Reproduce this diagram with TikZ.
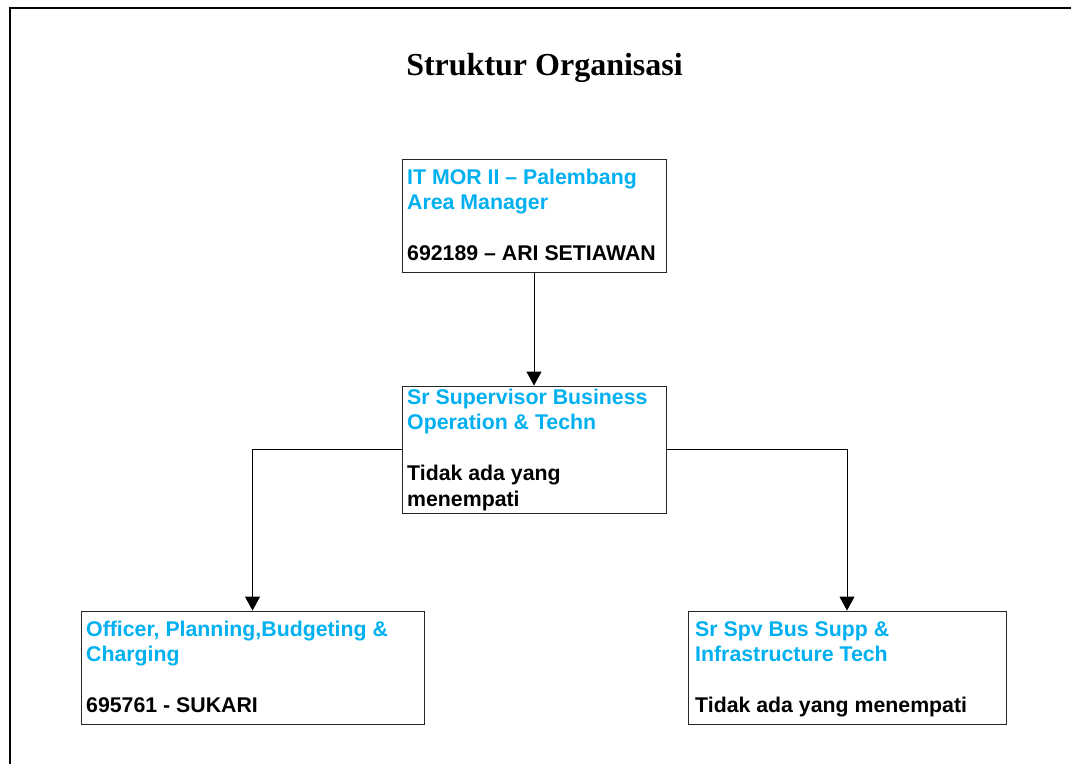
\documentclass[tikz,border=0pt]{standalone}
\usepackage{fontspec}
\setmainfont{Liberation Serif}
\newfontfamily\arialfont{Liberation Sans}
\usetikzlibrary{arrows.meta}
\definecolor{roleblue}{RGB}{0,176,240}

\tikzset{
  posbox/.style={draw=black!85, line width=0.9pt, fill=white, inner sep=0pt,
                 minimum width=#1, minimum height=113pt},
  posbox/.default=264pt,
  boxtext/.style={anchor=base west, inner sep=0pt, font=\arialfont\bfseries\fontsize{21.3}{25.5}\selectfont},
  link/.style={draw=black, line width=0.9pt},
  linkarrow/.style={link, -{Triangle[width=15pt,length=14pt]}},
}

\newcommand{\roletitle}[1]{\textcolor{roleblue}{#1}}

\begin{document}
\begin{tikzpicture}[x=1pt, y=-1pt]
  \useasboundingbox (0,0) rectangle (1071,764);

  % page frame, open on the right and bottom
  \draw[line width=2pt] (10,764) -- (10,8) -- (1071,8);

  % heading
  \node[anchor=base, inner sep=0pt, font=\bfseries\fontsize{32}{38}\selectfont]
    (heading) at (544.5,75) {Struktur Organisasi};

  % position boxes
  \node[posbox] (mgr)  at (534,216)   {};
  \node[posbox, minimum height=127pt] (sup)  at (534,449.5) {};
  \node[posbox=343pt] (plan) at (252.5,667.5) {};
  \node[posbox=318pt] (infra) at (847,667.5) {};

  % box contents
  \node[boxtext] (mgrtxt) at (407,184)
    {\parbox[t]{258pt}{\roletitle{IT MOR II – Palembang}\\
                       \roletitle{Area Manager}\\[25.5pt]
                       692189 – ARI SETIAWAN}};
  \node[boxtext] (suptxt) at (407,404)
    {\parbox[t]{258pt}{\roletitle{Sr Supervisor Business}\\
                       \roletitle{Operation \& Techn}\\[25.5pt]
                       Tidak ada yang\\
                       menempati}};
  \node[boxtext] (plantxt) at (86,636)
    {\parbox[t]{335pt}{\roletitle{Officer, Planning,Budgeting \&}\\
                       \roletitle{Charging}\\[25.5pt]
                       695761 - SUKARI}};
  \node[boxtext] (infratxt) at (695,636)
    {\parbox[t]{310pt}{\roletitle{Sr Spv Bus Supp \&}\\
                       \roletitle{Infrastructure Tech}\\[25.5pt]
                       Tidak ada yang menempati}};

  % reporting lines
  \draw[linkarrow] (mgr.south) -- (sup.north);
  \draw[linkarrow] (sup.west) -| (plan.north);
  \draw[linkarrow] (sup.east) -| (infra.north);
\end{tikzpicture}
\end{document}
